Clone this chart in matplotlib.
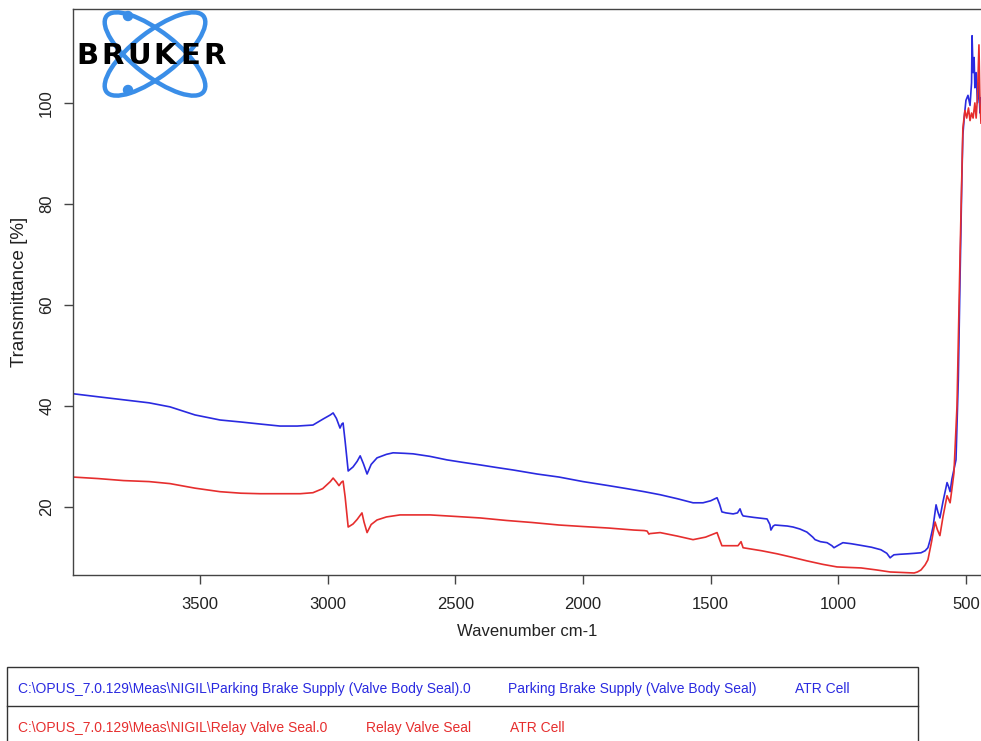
"""
FTIR transmittance spectra - Parking Brake Supply vs Relay Valve Seal (ATR)
"""
import matplotlib.pyplot as plt
from matplotlib.patches import Ellipse, Circle, Rectangle
from matplotlib.lines import Line2D

# Parking Brake Supply (Valve Body Seal) - blue
blue_wn = [3998, 3900, 3800, 3700, 3618, 3520, 3422, 3340, 3265, 3187, 3120, 3058, 3018,
           2990, 2979, 2966, 2952, 2945, 2940, 2932, 2920, 2901, 2885, 2873, 2860, 2846,
           2830, 2807, 2770, 2744, 2700, 2666, 2600, 2533, 2470, 2403, 2340, 2274, 2180,
           2094, 2000, 1900, 1828, 1760, 1698, 1630, 1569, 1530, 1500, 1475, 1465, 1456,
           1440, 1412, 1395, 1385, 1378, 1373, 1330, 1279, 1268, 1264, 1255, 1248, 1200,
           1177, 1150, 1123, 1100, 1091, 1070, 1044, 1025, 1017, 1000, 982, 950, 915, 870,
           833, 810, 797, 790, 782, 760, 727, 700, 676, 660, 649, 640, 629, 617, 610, 602,
           590, 574, 568, 562, 555, 539, 530, 523, 516, 512, 506, 500, 492, 484, 478, 476,
           472, 468, 465, 460, 455, 450, 445, 441]
blue_t = [42.4, 41.8, 41.2, 40.6, 39.8, 38.2, 37.2, 36.8, 36.4, 36.0, 36.0, 36.2, 37.4,
          38.2, 38.6, 37.5, 35.6, 36.4, 36.6, 33.0, 27.1, 27.9, 29.0, 30.1, 28.5, 26.5,
          28.4, 29.7, 30.4, 30.7, 30.6, 30.5, 30.0, 29.3, 28.8, 28.3, 27.8, 27.3, 26.5,
          25.9, 25.0, 24.2, 23.6, 23.0, 22.4, 21.6, 20.8, 20.8, 21.2, 21.8, 20.5, 19.0,
          18.8, 18.6, 18.8, 19.6, 18.6, 18.2, 17.9, 17.6, 16.5, 15.4, 16.2, 16.4, 16.2,
          16.0, 15.6, 15.0, 14.0, 13.5, 13.1, 12.9, 12.3, 11.9, 12.4, 12.9, 12.7, 12.4, 12.0,
          11.5, 10.8, 9.9, 10.2, 10.5, 10.6, 10.7, 10.8, 10.9, 11.3, 11.9, 13.5, 16.0, 20.4,
          19.0, 17.8, 21.0, 24.8, 24.0, 23.0, 25.5, 29.3, 45.0, 65.5, 85.0, 93.7, 97.5, 100.5,
          101.5, 99.5, 104.0, 113.3, 106.0, 109.0, 103.0, 106.0, 100.0, 104.0, 98.0, 101.0]

# Relay Valve Seal - red
red_wn = [3998, 3900, 3800, 3700, 3618, 3520, 3422, 3340, 3265, 3108, 3058, 3020, 2990,
          2979, 2966, 2956, 2946, 2940, 2932, 2920, 2901, 2885, 2866, 2858, 2846, 2830,
          2807, 2770, 2717, 2660, 2599, 2500, 2403, 2300, 2200, 2094, 2000, 1900, 1800,
          1760, 1749, 1742, 1738, 1698, 1630, 1569, 1520, 1475, 1465, 1456, 1420, 1393,
          1381, 1373, 1300, 1240, 1180, 1123, 1060, 1005, 960, 911, 850, 797, 750, 703,
          690, 676, 660, 649, 635, 621, 612, 602, 590, 574, 568, 562, 555, 547, 535, 523,
          512, 504, 497, 490, 484, 478, 472, 465, 460, 455, 449, 445, 441]
red_t = [25.9, 25.6, 25.2, 25.0, 24.6, 23.7, 23.0, 22.7, 22.6, 22.6, 22.8, 23.6, 25.0,
         25.7, 24.9, 24.2, 24.9, 25.1, 22.0, 16.0, 16.6, 17.5, 18.8, 17.0, 14.9, 16.5,
         17.4, 18.0, 18.4, 18.4, 18.4, 18.1, 17.8, 17.3, 16.9, 16.4, 16.1, 15.8, 15.4,
         15.3, 15.2, 14.6, 14.7, 14.9, 14.2, 13.5, 14.0, 14.9, 13.5, 12.3, 12.3, 12.3,
         13.1, 11.9, 11.3, 10.7, 10.0, 9.3, 8.6, 8.1, 8.0, 7.9, 7.5, 7.1, 7.0, 6.9,
         7.1, 7.5, 8.5, 9.5, 13.0, 17.0, 15.5, 14.3, 18.0, 22.2, 21.5, 20.8, 23.5, 26.7,
         40.0, 70.0, 95.0, 98.5, 97.0, 99.0, 96.5, 98.0, 97.0, 100.0, 97.0, 101.0, 111.5,
         100.0, 96.0]

x_ticks = [3500, 3000, 2500, 2000, 1500, 1000, 500]
y_ticks = [20, 40, 60, 80, 100]

legend_rows = [
    ["C:\\OPUS_7.0.129\\Meas\\NIGIL\\Parking Brake Supply (Valve Body Seal).0",
     "Parking Brake Supply (Valve Body Seal)", "ATR Cell"],
    ["C:\\OPUS_7.0.129\\Meas\\NIGIL\\Relay Valve Seal.0", "Relay Valve Seal", "ATR Cell"],
]

BLUE = '#2a2ae0'
RED = '#e62e2e'
W, H = 981, 741

plt.rcParams['font.family'] = ['Liberation Sans', 'DejaVu Sans']

fig = plt.figure(figsize=(W / 100, H / 100), dpi=100)
ax = fig.add_axes([73 / W, 1 - 575 / H, 1 - 73 / W, (575 - 9) / H])
ax.plot(blue_wn, blue_t, color=BLUE, lw=1.2)
ax.plot(red_wn, red_t, color=RED, lw=1.2)
ax.set_xlim(3998, 441)
ax.set_ylim(6.5, 118.6)
ax.set_xticks(x_ticks)
ax.set_yticks(y_ticks)

ax.spines['right'].set_visible(False)
for s in ax.spines.values():
    s.set_color('#444444')
    s.set_linewidth(1)
ax.tick_params(length=6.5, width=1, color='#444444', labelsize=12, labelcolor='#222222')
ax.tick_params(axis='x', pad=9)
ax.tick_params(axis='y', pad=7, labelrotation=90)
for lab in ax.get_yticklabels():
    lab.set_va('center')
ax.set_xlabel('Wavenumber cm-1', fontsize=12, labelpad=9, color='#222222')
ax.set_ylabel('Transmittance [%]', fontsize=13.5, labelpad=8, color='#222222')

# Bruker logo
lax = fig.add_axes([70 / W, 1 - 105 / H, 165 / W, 100 / H])
lax.set_xlim(0, 165)
lax.set_ylim(100, 0)
lax.axis('off')
for ang in (38, -38):
    lax.add_patch(Ellipse((85, 49), 123, 44, angle=ang, fill=False, ec='#3a8ee8', lw=3.2))
for cy in (11, 85):
    lax.add_patch(Circle((58, cy), 4.5, color='#3a8ee8'))
for cx, ch in zip([17, 42.5, 69, 95, 120, 145], "BRUKER"):
    lax.text(cx, 51, ch, ha='center', va='center', fontsize=21, fontweight='heavy',
             family='DejaVu Sans', color='black', zorder=5)

# file legend table under the plot
fig.patches.append(Rectangle((7 / W, 1 - 770 / H), (918 - 7) / W, (770 - 667) / H,
                             transform=fig.transFigure, fill=False, ec='#333333', lw=1))
fig.lines.append(Line2D([7 / W, 918 / W], [1 - 706 / H, 1 - 706 / H],
                        transform=fig.transFigure, color='#333333', lw=1))
row_y = [689, 728]
col_x = [[18, 508, 795], [18, 366, 510]]
for row, yy, xs, col in zip(legend_rows, row_y, col_x, [BLUE, RED]):
    for txt, xx in zip(row, xs):
        fig.text(xx / W, 1 - yy / H, txt, color=col, fontsize=10, ha='left', va='center')

fig.savefig('out.png', dpi=100)
